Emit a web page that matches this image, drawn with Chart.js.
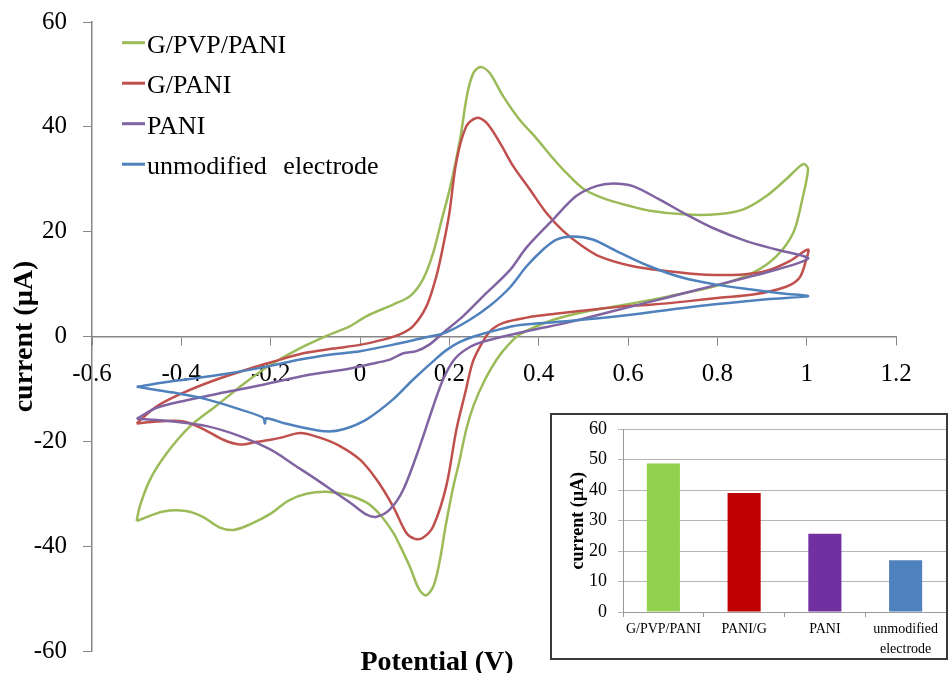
<!DOCTYPE html>
<html><head><meta charset="utf-8">
<script src="https://cdn.jsdelivr.net/npm/chart.js@4/dist/chart.umd.min.js"></script>
<style>
html,body{margin:0;padding:0;background:#fff;}
#wrap{position:relative;width:949px;height:673px;overflow:hidden;background:#fff;}
#main{position:absolute;left:0;top:0;}
#inset{position:absolute;left:550px;top:413px;width:398px;height:247px;border:2px solid #3a3a3a;box-sizing:border-box;background:#fff;}
#bar{position:absolute;left:0;top:0;}
</style></head><body>
<div id="wrap">
<canvas id="main" width="949" height="673"></canvas>
<div id="inset"><canvas id="bar" width="394" height="243"></canvas></div>
</div>
<script>
// ---- main CV data (potential V, current µA), loop order: forward then reverse ----
const gpvpPotential = [-0.5,-0.493,-0.47,-0.432,-0.38,-0.32,-0.26,-0.2,-0.14,-0.075,-0.022,0.015,0.074,0.112,0.141,0.164,0.183,0.202,0.224,0.24,0.254,0.27,0.29,0.32,0.357,0.395,0.43,0.462,0.5,0.55,0.6,0.649,0.724,0.798,0.857,0.91,0.954,0.985,0.995,1.003,
  0.99,0.97,0.932,0.88,0.8,0.693,0.596,0.508,0.433,0.358,0.33,0.306,0.28,0.255,0.238,0.222,0.209,0.192,0.179,0.165,0.148,0.132,0.112,0.09,0.075,0.045,0.015,-0.03,-0.075,-0.12,-0.16,-0.2,-0.245,-0.283,-0.315,-0.352,-0.39,-0.44,-0.5];
const gpvpCurrent = [-35.2,-32.4,-27.3,-22.2,-17.1,-13.1,-9.0,-5.4,-2.5,0.1,2.0,3.9,6.1,7.7,10.9,16.0,22.3,28.5,37.6,46.2,50.3,51.4,50.3,45.9,41.4,37.8,34.2,31.2,28.2,26.2,25.0,24.0,23.3,23.3,24.2,26.8,30.0,32.5,32.9,31.9,
  26.1,19.8,15.3,12.2,9.7,7.7,6.1,4.8,3.2,0.4,-1.8,-4.4,-8.2,-13.0,-17.7,-24.0,-28.6,-36.0,-42.6,-47.5,-49.4,-48.2,-44.0,-40.0,-37.5,-34.0,-31.7,-30.2,-29.6,-30.0,-31.3,-33.8,-35.8,-36.9,-36.4,-34.4,-33.3,-33.4,-35.2];

const gpaniPotential = [-0.5,-0.455,-0.395,-0.321,-0.246,-0.194,-0.127,-0.06,0,0.052,0.089,0.119,0.149,0.171,0.186,0.2,0.216,0.238,0.261,0.283,0.313,0.343,0.38,0.417,0.454,0.492,0.536,0.611,0.685,0.775,0.85,0.909,0.962,1.003,
  0.999,0.984,0.954,0.88,0.805,0.731,0.656,0.582,0.508,0.433,0.373,0.321,0.291,0.269,0.252,0.236,0.216,0.193,0.164,0.141,0.123,0.104,0.074,0.037,0,-0.045,-0.09,-0.134,-0.172,-0.2,-0.231,-0.269,-0.306,-0.35,-0.395,-0.455,-0.5];
const gpaniCurrent = [-16.6,-13.3,-10.7,-8.2,-6.1,-4.8,-3.2,-2.3,-1.6,-0.6,0.4,2.0,5.8,11.5,17.2,23.5,33.5,40.1,41.7,40.8,37.0,32.5,28.1,23.6,20.2,17.6,15.3,13.4,12.5,11.8,11.8,12.5,14.4,16.6,
  14.7,11.2,9.5,8.0,7.4,6.7,6.1,5.7,5.0,4.3,3.6,2.6,1.0,-1.9,-5.0,-10.6,-17.7,-28.6,-36.2,-38.4,-38.6,-37.5,-32.4,-27.3,-23.5,-20.9,-19.3,-18.4,-19.2,-19.7,-20.1,-20.6,-19.7,-17.7,-16.2,-16.2,-16.6];

const paniPotential = [-0.5,-0.455,-0.395,-0.306,-0.217,-0.12,-0.022,0.037,0.067,0.097,0.126,0.156,0.186,0.231,0.276,0.335,0.373,0.432,0.484,0.529,0.566,0.611,0.671,0.73,0.79,0.865,0.932,1.003,
  0.984,0.909,0.835,0.76,0.686,0.611,0.537,0.462,0.388,0.33,0.283,0.246,0.212,0.186,0.164,0.134,0.097,0.067,0.037,0.015,-0.022,-0.06,-0.097,-0.142,-0.2,-0.269,-0.343,-0.418,-0.5];
const paniCurrent = [-15.7,-13.6,-12.3,-10.7,-9.2,-7.4,-6.1,-5.0,-4.4,-3.2,-2.8,-1.5,0.7,3.9,7.7,12.6,17.0,22.3,26.8,28.7,29.2,28.7,26.1,23.3,20.7,18.2,16.6,15.0,
  14.1,12.2,10.6,9.0,7.4,5.8,4.2,2.6,1.3,0.2,-0.8,-2.0,-4.3,-8.2,-13.3,-20.9,-29.2,-33.0,-34.4,-34.0,-31.7,-29.5,-27.3,-24.8,-21.6,-19.0,-17.1,-16.2,-15.7];

const barePotential = [-0.5,-0.418,-0.306,-0.2,-0.134,-0.06,0,0.089,0.141,0.193,0.246,0.29,0.335,0.373,0.41,0.44,0.477,0.521,0.574,0.648,0.723,0.798,0.872,0.947,1.003,
  0.91,0.76,0.611,0.462,0.358,0.3,0.255,0.225,0.195,0.168,0.119,0.074,0.015,-0.037,-0.075,-0.12,-0.172,-0.21,-0.213,-0.217,-0.269,-0.343,-0.418,-0.5];
const bareCurrent = [-9.6,-8.5,-7.2,-5.6,-4.4,-3.4,-2.8,-1.3,-0.3,0.8,3.2,5.8,9.3,13.4,16.6,18.5,19.1,18.5,16.3,13.4,11.2,9.9,9.0,8.2,7.7,
  7.1,5.8,4.2,2.9,2.2,1.1,0.0,-1.0,-2.5,-4.4,-8.2,-12.0,-15.8,-17.7,-18.1,-17.5,-16.5,-15.6,-16.6,-15.5,-13.9,-12.0,-10.7,-9.6];

const seriesNames = ['G/PVP/PANI','G/PANI','PANI','unmodified electrode'];
const seriesColors = ['#9BBB59','#C0504D','#8064A2','#4F81BD'];

// ---- inset bar data ----
const barCategories = ['G/PVP/PANI','PANI/G','PANI',['unmodified','electrode']];
const barValues = [48.8, 39.1, 25.7, 17.0];
const barColors = ['#92D050','#C00000','#7030A0','#4F81BD'];

const zip = (xs, ys) => xs.map((x, i) => ({x: x, y: ys[i]}));
const serif = 'Liberation Serif, "Times New Roman", serif';

const cvSeries = [
  zip(gpvpPotential, gpvpCurrent),
  zip(gpaniPotential, gpaniCurrent),
  zip(paniPotential, paniCurrent),
  zip(barePotential, bareCurrent)
];

const legendPlugin = {
  id: 'cvLegend',
  afterDraw(chart) {
    const ctx = chart.ctx, a = chart.chartArea;
    ctx.save();
    ctx.font = '26px ' + serif;
    ctx.textAlign = 'left';
    ctx.textBaseline = 'alphabetic';
    if ('wordSpacing' in ctx) ctx.wordSpacing = '10px';
    chart.data.datasets.forEach((ds, i) => {
      const y = a.top + 20.7 + i * 40.5;
      ctx.strokeStyle = ds.borderColor;
      ctx.lineWidth = 3;
      ctx.beginPath();
      ctx.moveTo(a.left + 30, y);
      ctx.lineTo(a.left + 53, y);
      ctx.stroke();
      ctx.fillStyle = '#000';
      ctx.fillText(ds.label, a.left + 55, y + 10);
    });
    ctx.restore();
  }
};

const xTitlePlugin = {
  id: 'xTitle',
  afterDraw(chart) {
    const ctx = chart.ctx, a = chart.chartArea;
    ctx.save();
    ctx.font = 'bold 28px ' + serif;
    ctx.fillStyle = '#000';
    ctx.textAlign = 'center';
    ctx.textBaseline = 'alphabetic';
    ctx.fillText('Potential (V)', a.left + 345, a.bottom + 19);
    ctx.restore();
  }
};

new Chart(document.getElementById('main'), {
  type: 'scatter',
  data: {
    datasets: cvSeries.map((pts, i) => ({
      label: seriesNames[i],
      data: pts,
      showLine: true,
      fill: false,
      borderColor: seriesColors[i],
      backgroundColor: seriesColors[i],
      borderWidth: 2.5,
      pointRadius: 0,
      tension: 0.32,
      order: 4 - i
    }))
  },
  options: {
    responsive: false,
    animation: false,
    devicePixelRatio: 1,
    layout: {padding: {left: 0, top: 22, right: 53, bottom: 22}},
    plugins: {legend: {display: false}, tooltip: {enabled: false}},
    scales: {
      x: {
        type: 'linear',
        position: {y: 0},
        min: -0.6, max: 1.2,
        ticks: {
          stepSize: 0.2,
          autoSkip: false,
          maxRotation: 0,
          padding: 15,
          color: '#000',
          font: {family: serif, size: 25},
          callback: v => String(Math.round(v * 10) / 10)
        },
        grid: {drawOnChartArea: false, drawTicks: true, tickLength: 8, color: '#868686'},
        border: {color: '#868686', width: 1.5}
      },
      y: {
        type: 'linear',
        position: 'left',
        min: -60, max: 60,
        ticks: {stepSize: 20, padding: 16, color: '#000', font: {family: serif, size: 25}},
        grid: {drawOnChartArea: false, drawTicks: true, tickLength: 9, color: '#868686'},
        border: {color: '#868686', width: 1.5},
        title: {
          display: true, text: 'current (µA)', color: '#000',
          font: {family: serif, size: 28, weight: 'bold'},
          padding: {top: 8, bottom: 0}
        },
        afterFit: s => { s.width = 92; s.paddingTop = 0; s.paddingBottom = 0; }
      }
    }
  },
  plugins: [legendPlugin, xTitlePlugin]
});

new Chart(document.getElementById('bar'), {
  type: 'bar',
  data: {
    labels: barCategories,
    datasets: [{
      data: barValues,
      backgroundColor: barColors,
      barPercentage: 0.41,
      categoryPercentage: 1
    }]
  },
  options: {
    responsive: false,
    animation: false,
    devicePixelRatio: 1,
    layout: {padding: {top: 14.3, right: 0, bottom: 0, left: 0}},
    plugins: {legend: {display: false}, tooltip: {enabled: false}},
    scales: {
      x: {
        ticks: {autoSkip: false, maxRotation: 0, padding: 3, color: '#000', font: {family: serif, size: 14, lineHeight: 1.4}},
        grid: {drawOnChartArea: false, drawTicks: true, tickLength: 5, color: '#9a9a9a', offset: true},
        border: {color: '#9a9a9a'},
        afterFit: s => { s.height = 46; }
      },
      y: {
        min: 0, max: 60,
        ticks: {stepSize: 10, padding: 11, color: '#000', font: {family: serif, size: 18}},
        grid: {color: '#b5b5b5', drawTicks: true, tickLength: 5},
        border: {color: '#9a9a9a'},
        title: {
          display: true, text: 'current (µA)', color: '#000',
          font: {family: serif, size: 18, weight: 'bold'},
          padding: {top: 15.5, bottom: 0}
        },
        afterFit: s => { s.width = 71; s.paddingTop = 0; s.paddingBottom = 0; }
      }
    }
  }
});
</script>
</body></html>
